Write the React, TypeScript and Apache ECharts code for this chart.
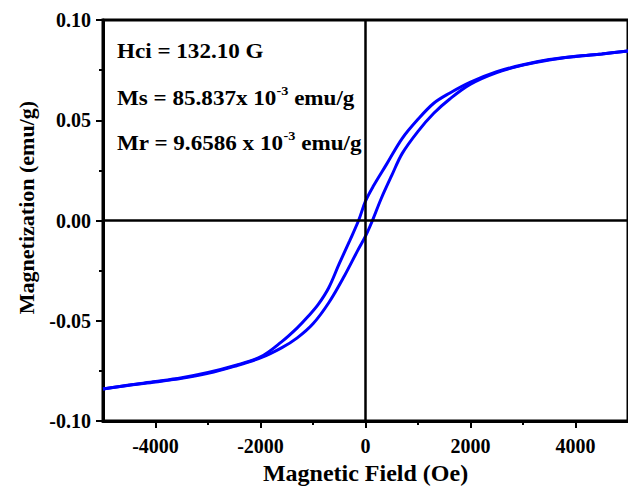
import React, { useEffect, useRef } from "react";
import * as echarts from "echarts";

// Descending-field branch (upper branch of the loop)
const fieldDown = [5000, 4500, 4000, 3500, 3000, 2500, 2000, 1600, 1300, 1000, 700, 400, 150, 0, -132, -300, -500, -700, -900, -1100, -1300, -1600, -2000, -2500, -3000, -3500, -4000, -4500, -5000];
const magDown = [0.0845, 0.0831, 0.0819, 0.0803, 0.0777, 0.0742, 0.069, 0.0635, 0.0585, 0.0505, 0.041, 0.028, 0.0172, 0.0097, 0, -0.01, -0.0215, -0.0335, -0.0418, -0.048, -0.0535, -0.0605, -0.068, -0.0724, -0.0758, -0.0784, -0.0803, -0.082, -0.084];

// Ascending-field branch (lower branch of the loop)
const fieldUp = [-5000, -4500, -4000, -3500, -3000, -2500, -2000, -1600, -1300, -1000, -700, -400, -150, 0, 132, 300, 500, 700, 1000, 1300, 1600, 2000, 2500, 3000, 3500, 4000, 4500, 5000];
const magUp = [-0.084, -0.0821, -0.0805, -0.0787, -0.0762, -0.0727, -0.0685, -0.0635, -0.0585, -0.0515, -0.041, -0.0275, -0.015, -0.0078, 0, 0.011, 0.0225, 0.0335, 0.0445, 0.0535, 0.0605, 0.068, 0.0738, 0.0775, 0.0801, 0.0818, 0.0831, 0.0845];

const xMajorTicks = [-4000, -2000, 0, 2000, 4000];
const xMinorTicks = [-3000, -1000, 1000, 3000];

const annotations = [
  { main: "Hci = 132.10 G", sup: "", tail: "" },
  { main: "Ms = 85.837x 10", sup: "-3", tail: " emu/g" },
  { main: "Mr = 9.6586 x 10", sup: "-3", tail: " emu/g" },
];

const FONT = "'Liberation Serif', 'Times New Roman', serif";

export default function App() {
  const ref = useRef<HTMLDivElement>(null);

  useEffect(() => {
    if (!ref.current) return;
    const chart = echarts.init(ref.current, null, { renderer: "svg" });
    const down = fieldDown.map((h, i) => [h, magDown[i]]);
    const up = fieldUp.map((h, i) => [h, magUp[i]]);

    const lineBlack = { color: "#000", width: 3 };
    const labelStyle = { color: "#000", fontFamily: FONT, fontWeight: "bold" as const, fontSize: 20 };

    const graphics = annotations.map((a, i) => ({
      type: "text",
      x: 117,
      y: 39 + i * 45,
      scaleX: 1.1,
      style: {
        text: a.sup
          ? `{m|${a.main}}{s|${a.sup}}{m|${a.tail}}`
          : `{m|${a.main}}`,
        rich: {
          m: { fontFamily: FONT, fontWeight: "bold", fontSize: 21, fill: "#000", lineHeight: 24 },
          s: { fontFamily: FONT, fontWeight: "bold", fontSize: 13, fill: "#000", padding: [0, 0, 15, 0] },
        },
      },
    }));

    chart.setOption({
      animation: false,
      grid: { left: 103, top: 20, width: 528, height: 409, show: true, borderColor: "#000", borderWidth: 3, backgroundColor: "transparent" },
      xAxis: [
        {
          type: "value",
          min: -5000,
          max: 5000,
          interval: 1000,
          position: "bottom",
          axisLine: { onZero: false, lineStyle: lineBlack },
          axisTick: { show: true, customValues: xMajorTicks, length: 7, lineStyle: { color: "#000", width: 2 } },
          axisLabel: { customValues: xMajorTicks, margin: 15, formatter: (v: number) => String(v), ...labelStyle },
          splitLine: { show: false },
          name: "Magnetic Field (Oe)",
          nameLocation: "middle",
          nameGap: 36,
          nameTextStyle: { color: "#000", fontFamily: FONT, fontWeight: "bold", fontSize: 24 },
        },
        {
          type: "value",
          min: -5000,
          max: 5000,
          interval: 1000,
          position: "bottom",
          axisLine: { show: false, onZero: false },
          axisTick: { show: true, customValues: xMinorTicks, length: 4, lineStyle: { color: "#000", width: 2 } },
          axisLabel: { show: false },
          splitLine: { show: false },
        },
      ],
      yAxis: {
        type: "value",
        min: -0.1,
        max: 0.1,
        interval: 0.05,
        axisLine: { onZero: false, lineStyle: lineBlack },
        axisTick: { show: true, length: 7, lineStyle: { color: "#000", width: 2 } },
        minorTick: { show: true, splitNumber: 2, length: 4, lineStyle: { color: "#000", width: 2 } },
        axisLabel: { margin: 12, formatter: (v: number) => v.toFixed(2), ...labelStyle },
        splitLine: { show: false },
        name: "Magnetization (emu/g)",
        nameLocation: "middle",
        nameGap: 66,
        nameTextStyle: { color: "#000", fontFamily: FONT, fontWeight: "bold", fontSize: 22, padding: [0, 0, 0, 26] },
      },
      series: [
        {
          type: "line",
          data: down,
          xAxisIndex: 0,
          showSymbol: false,
          smooth: 0.35,
          lineStyle: { color: "#0000ff", width: 3 },
          z: 3,
          markLine: {
            silent: true,
            symbol: ["none", "none"],
            label: { show: false },
            lineStyle: { color: "#000", width: 2.5, type: "solid" },
            data: [{ xAxis: 0 }, { yAxis: 0 }],
          },
        },
        {
          type: "line",
          data: up,
          xAxisIndex: 0,
          showSymbol: false,
          smooth: 0.35,
          lineStyle: { color: "#0000ff", width: 3 },
          z: 3,
        },
      ],
      graphic: graphics,
    });
    return () => chart.dispose();
  }, []);

  return <div ref={ref} style={{ position: "fixed", left: 0, top: 0, width: 628, height: 490, background: "#fff" }} />;
}
